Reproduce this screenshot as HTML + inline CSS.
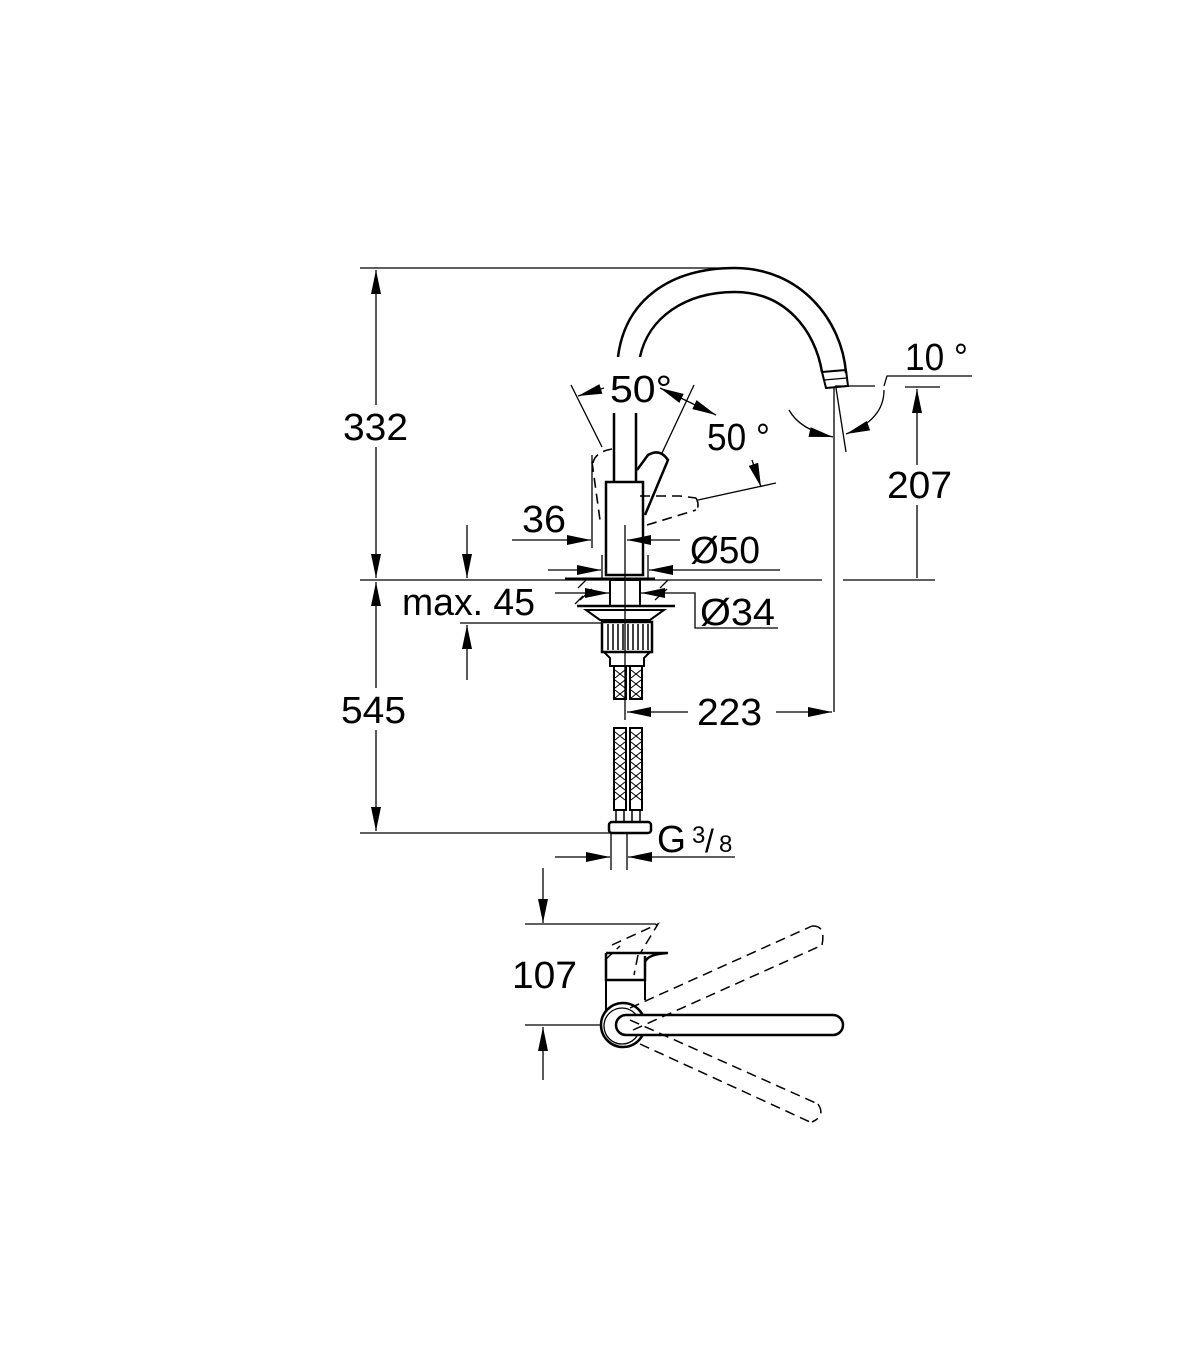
<!DOCTYPE html>
<html><head><style>html,body{margin:0;padding:0;background:#fff}svg{display:block}text{font-family:"Liberation Sans",sans-serif;fill:#000}</style></head>
<body>
<svg width="1200" height="1372" viewBox="0 0 1200 1372" xmlns="http://www.w3.org/2000/svg">
<defs>
<marker id="a" viewBox="0 0 24 10" refX="24" refY="5" markerWidth="24" markerHeight="10" markerUnits="userSpaceOnUse" orient="auto-start-reverse"><path d="M0,0 L24,5 L0,10Z" fill="#000"/></marker>
</defs>
<g stroke="#000" fill="none" stroke-width="1.3">
<!-- outer dims -->
<line x1="360" y1="268" x2="730" y2="268"/>
<line x1="376" y1="270" x2="376" y2="405" marker-start="url(#a)"/>
<line x1="376" y1="447" x2="376" y2="578" marker-end="url(#a)"/>
<line x1="360" y1="580" x2="822" y2="580"/>
<line x1="843" y1="580" x2="935" y2="580"/>
<line x1="376" y1="582" x2="376" y2="688" marker-start="url(#a)"/>
<line x1="376" y1="730" x2="376" y2="831" marker-end="url(#a)"/>
<line x1="360" y1="833" x2="612" y2="833"/>
<!-- spout -->
<path d="M618,357 C625,300 670,268 735,268 C800,268 842,320 846,373" stroke-width="2.5"/>
<path d="M640,357 C648,318 685,292 735,292 C785,292 815,330 822,372" stroke-width="2.5"/>
<path d="M822,372 L846,370 L848,386 L826,388Z" stroke-width="2"/>
<line x1="824" y1="380" x2="847" y2="378"/>
<!-- body -->
<line x1="614" y1="413" x2="614" y2="482" stroke-width="2.5"/>
<line x1="636" y1="413" x2="636" y2="482" stroke-width="2.5"/>
<rect x="606" y="482" width="37" height="93" stroke-width="2.5"/>
<path d="M637,470 L648,455 Q660,448 668,460 L645,515" stroke-width="2.5"/>
<path d="M593,463 Q595,452 612,449 M592,462 L600,520 M640,496 L680,496 L696,498 M647,525 L696,510 M696,498 Q700,505 696,512" stroke-dasharray="10,6" stroke-width="1.6"/>
<!-- 50° -->
<line x1="571" y1="385" x2="602" y2="447"/>
<line x1="694" y1="385" x2="662" y2="453"/>
<line x1="604" y1="388" x2="578" y2="396" marker-end="url(#a)"/>
<line x1="660" y1="388" x2="716" y2="415" marker-start="url(#a)" marker-end="url(#a)"/>
<line x1="698" y1="500" x2="776" y2="483"/>
<line x1="752" y1="460" x2="761" y2="487" marker-end="url(#a)"/>
<!-- 10° -->
<line x1="834" y1="388" x2="834" y2="712"/>
<line x1="836" y1="388" x2="846" y2="452"/>
<line x1="835" y1="386" x2="875" y2="386"/>
<path d="M884,386 L887,376 L972,376"/>
<line x1="905" y1="387" x2="940" y2="387"/>
<line x1="917" y1="465" x2="917" y2="389" marker-end="url(#a)"/>
<line x1="917" y1="505" x2="917" y2="578"/>
<path d="M789,410 Q800,430 833,437" marker-end="url(#a)"/>
<path d="M884,390 Q884,420 846,434" marker-end="url(#a)"/>
<!-- 36 / Ø50 / Ø34 -->
<line x1="592" y1="455" x2="592" y2="548"/>
<line x1="625" y1="525" x2="625" y2="720"/>
<line x1="512" y1="540" x2="591" y2="540" marker-end="url(#a)"/>
<line x1="680" y1="540" x2="627" y2="540" marker-end="url(#a)"/>
<line x1="548" y1="570" x2="601" y2="570" marker-end="url(#a)"/>
<line x1="780" y1="570" x2="649" y2="570" marker-end="url(#a)"/>
<line x1="602" y1="555" x2="602" y2="580"/>
<line x1="648" y1="555" x2="648" y2="580"/>
<line x1="555" y1="593" x2="609" y2="593" marker-end="url(#a)"/>
<line x1="675" y1="593" x2="641" y2="593" marker-end="url(#a)"/>
<path d="M675,593 L695,593 L695,628 L778,628"/>
<!-- max 45 -->
<line x1="467" y1="525" x2="467" y2="578" marker-end="url(#a)"/>
<line x1="467" y1="680" x2="467" y2="625" marker-end="url(#a)"/>
<line x1="460" y1="623" x2="603" y2="623"/>
<!-- fitting -->
<line x1="565" y1="579" x2="655" y2="579" stroke-width="3"/>
<rect x="610" y="580" width="30" height="26" stroke-width="2"/>
<line x1="577" y1="606" x2="675" y2="606" stroke-width="2.5"/>
<path d="M586,610 L664,610 L650,620 L600,620Z" stroke-width="2"/>
<path d="M578,588 L586,580 M580,600 L592,589 M660,588 L668,580 M655,600 L667,589 M575,604 L583,596"/>
<rect x="602" y="622" width="50" height="30" stroke-width="2.5"/>
<path d="M608,624v26M613,624v26M618,624v26M623,624v26M628,624v26M633,624v26M638,624v26M643,624v26M648,624v26" stroke-width="1.5"/>
<path d="M604,652 L610,658 L610,666 L644,666 L644,658 L650,652" stroke-width="2"/>
<!-- hoses -->
<g stroke-width="2">
<rect x="614" y="666" width="12" height="33"/><rect x="630" y="666" width="12" height="33"/>
<rect x="614" y="728" width="12" height="82"/><rect x="630" y="728" width="12" height="82"/>
</g>
<path d="M615,670 l10,8 M625,670 l-10,8 M615,680 l10,8 M625,680 l-10,8 M615,690 l10,8 M625,690 l-10,8 M631,670 l10,8 M641,670 l-10,8 M631,680 l10,8 M641,680 l-10,8 M631,690 l10,8 M641,690 l-10,8" stroke-width="1"/>
<path d="M615,732 l10,8 M625,732 l-10,8 M615,742 l10,8 M625,742 l-10,8 M615,752 l10,8 M625,752 l-10,8 M615,762 l10,8 M625,762 l-10,8 M615,772 l10,8 M625,772 l-10,8 M615,782 l10,8 M625,782 l-10,8 M615,792 l10,8 M625,792 l-10,8 M631,732 l10,8 M641,732 l-10,8 M631,742 l10,8 M641,742 l-10,8 M631,752 l10,8 M641,752 l-10,8 M631,762 l10,8 M641,762 l-10,8 M631,772 l10,8 M641,772 l-10,8 M631,782 l10,8 M641,782 l-10,8 M631,792 l10,8 M641,792 l-10,8" stroke-width="1"/>
<rect x="616" y="810" width="8" height="12" stroke-width="1.5"/><rect x="632" y="810" width="8" height="12" stroke-width="1.5"/>
<rect x="609" y="822" width="42" height="11" rx="3" stroke-width="2.5"/>
<line x1="611" y1="833" x2="611" y2="870"/><line x1="627" y1="833" x2="627" y2="870"/>
<!-- 223 -->
<line x1="688" y1="712" x2="627" y2="712" marker-end="url(#a)"/>
<line x1="776" y1="712" x2="832" y2="712" marker-end="url(#a)"/>
<!-- G 3/8 -->
<line x1="555" y1="857" x2="610" y2="857" marker-end="url(#a)"/>
<line x1="735" y1="857" x2="628" y2="857" marker-end="url(#a)"/>
<!-- top view -->
<line x1="543" y1="868" x2="543" y2="923" marker-end="url(#a)"/>
<line x1="525" y1="924" x2="656" y2="924"/>
<line x1="543" y1="1080" x2="543" y2="1027" marker-end="url(#a)"/>
<line x1="525" y1="1025" x2="602" y2="1025"/>
<path d="M606,953 L668,953 M606,953 L606,980 L645,980 L645,956 M645,962 Q648,954 668,953" stroke-width="2.5"/>
<line x1="606" y1="980" x2="606" y2="1010" stroke-width="2"/>
<line x1="645" y1="980" x2="645" y2="1000" stroke-width="2"/>
<circle cx="623" cy="1025" r="22" stroke-width="2.5"/>
<circle cx="622" cy="1026" r="18" stroke-width="1.3"/>
<path d="M626,1015 L833,1015 A10,10 0 0 1 833,1035 L626,1035 A10,10 0 0 1 626,1015Z" stroke-width="2.5" fill="#fff"/>
<g stroke-dasharray="10,6" stroke-width="1.5">
<path d="M612,945 L658,924 L641,952 M605,960 L620,946 M638,955 L634,975"/>
<line x1="630" y1="1008" x2="812" y2="926"/><line x1="633" y1="1030" x2="818" y2="947"/>
<path d="M812,926 Q826,925 822,945"/>
<line x1="630" y1="1020" x2="818" y2="1104"/><line x1="640" y1="1044" x2="810" y2="1122"/>
<path d="M818,1104 Q826,1116 812,1122"/>
</g>
</g>
<g font-size="38">
<text x="343" y="440" textLength="65" lengthAdjust="spacingAndGlyphs">332</text>
<text x="341" y="723" textLength="65" lengthAdjust="spacingAndGlyphs">545</text>
<text x="610" y="402" textLength="62" lengthAdjust="spacingAndGlyphs">50°</text>
<text x="707" y="450" textLength="63" lengthAdjust="spacingAndGlyphs">50 °</text>
<text x="905" y="370" textLength="63" lengthAdjust="spacingAndGlyphs">10 °</text>
<text x="887" y="498" textLength="65" lengthAdjust="spacingAndGlyphs">207</text>
<text x="522" y="532" textLength="44" lengthAdjust="spacingAndGlyphs">36</text>
<text x="690" y="563" textLength="70" lengthAdjust="spacingAndGlyphs">Ø50</text>
<text x="402" y="615" textLength="133" lengthAdjust="spacingAndGlyphs">max. 45</text>
<text x="700" y="625" textLength="75" lengthAdjust="spacingAndGlyphs">Ø34</text>
<text x="697" y="725" textLength="65" lengthAdjust="spacingAndGlyphs">223</text>
<text x="657" y="852" textLength="29" lengthAdjust="spacingAndGlyphs">G</text>
<text x="692" y="843" font-size="24">3</text>
<text x="705" y="852" font-size="32">/</text>
<text x="719" y="852" font-size="24">8</text>
<text x="512" y="988" textLength="65" lengthAdjust="spacingAndGlyphs">107</text>
</g>
</svg>
</body></html>
